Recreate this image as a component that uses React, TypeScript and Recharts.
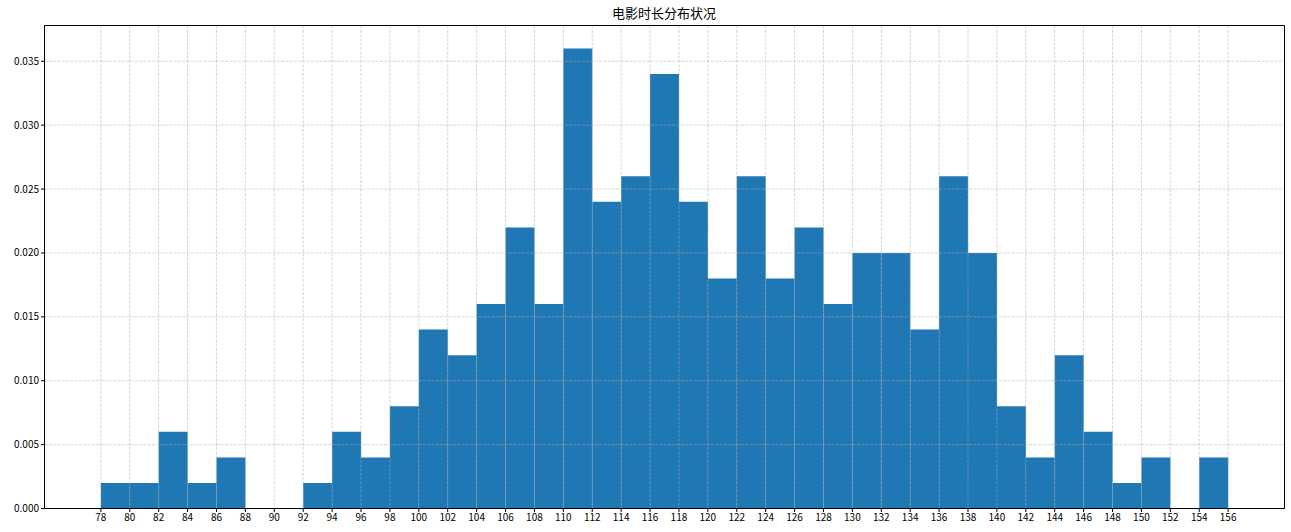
import React from 'react';
import { ComposedChart, Bar, XAxis, YAxis, CartesianGrid, ReferenceArea } from 'recharts';

const binStarts = [78, 80, 82, 84, 86, 88, 90, 92, 94, 96, 98, 100, 102, 104, 106, 108, 110, 112, 114, 116, 118, 120, 122, 124, 126, 128, 130, 132, 134, 136, 138, 140, 142, 144, 146, 148, 150, 152, 154];
const densities = [0.002, 0.002, 0.006, 0.002, 0.004, 0, 0, 0.002, 0.006, 0.004, 0.008, 0.014, 0.012, 0.016, 0.022, 0.016, 0.036, 0.024, 0.026, 0.034, 0.024, 0.018, 0.026, 0.018, 0.022, 0.016, 0.02, 0.02, 0.014, 0.026, 0.02, 0.008, 0.004, 0.012, 0.006, 0.002, 0.004, 0, 0.004];
const binWidth = 2;
const xTicks = [78, 80, 82, 84, 86, 88, 90, 92, 94, 96, 98, 100, 102, 104, 106, 108, 110, 112, 114, 116, 118, 120, 122, 124, 126, 128, 130, 132, 134, 136, 138, 140, 142, 144, 146, 148, 150, 152, 154, 156];
const yTicks = [0, 0.005, 0.01, 0.015, 0.02, 0.025, 0.03, 0.035];
const xDomain: [number, number] = [74.1, 159.9];
const yDomain: [number, number] = [0, 0.0378];
const title = '电影时长分布状况';

const data = binStarts.map((s, i) => ({ center: s + binWidth / 2, density: densities[i] }));

const FONT = '"Noto Sans CJK SC", "DejaVu Sans", sans-serif';

export default function App() {
  return (
    <div style={{ position: 'absolute', left: 0, top: 0, width: 1291, height: 532, background: '#fff', fontFamily: FONT }}>
      <div style={{ position: 'absolute', left: 44, width: 1240, top: 5, textAlign: 'center', fontSize: 13, color: '#000', lineHeight: '16px' }}>
        {title}
      </div>
      <ComposedChart
        width={1291}
        height={532}
        data={data}
        margin={{ top: 25.5, right: 6.5, bottom: 0, left: 0 }}
        barCategoryGap={0}
        barGap={0}
      >
        <XAxis
          xAxisId="main"
          dataKey="center"
          type="number"
          domain={xDomain}
          ticks={xTicks}
          interval={0}
          allowDataOverflow
          height={23.5}
          stroke="#000"
          tickSize={3.5}
          tick={{ fill: '#000', fontSize: 10, fontFamily: FONT }}
        />
        <YAxis
          yAxisId="main"
          type="number"
          domain={yDomain}
          ticks={yTicks}
          allowDataOverflow
          width={44.5}
          stroke="#000"
          tickSize={3.5}
          tickFormatter={(v: number) => v.toFixed(3)}
          tick={{ fill: '#000', fontSize: 10, fontFamily: FONT }}
        />
        <Bar xAxisId="main" yAxisId="main" dataKey="density" fill="#1f77b4" isAnimationActive={false} />
        <CartesianGrid
          xAxisId="main"
          yAxisId="main"
          stroke="#b0b0b0"
          strokeOpacity={0.5}
          strokeDasharray="3 1.3"
          zIndex={500}
        />
        <ReferenceArea
          xAxisId="main"
          yAxisId="main"
          x1={xDomain[0]}
          x2={xDomain[1]}
          y1={yDomain[0]}
          y2={yDomain[1]}
          fill="none"
          fillOpacity={0}
          stroke="#000"
          strokeWidth={1}
          strokeOpacity={1}
          ifOverflow="visible"
          zIndex={600}
        />
      </ComposedChart>
    </div>
  );
}
